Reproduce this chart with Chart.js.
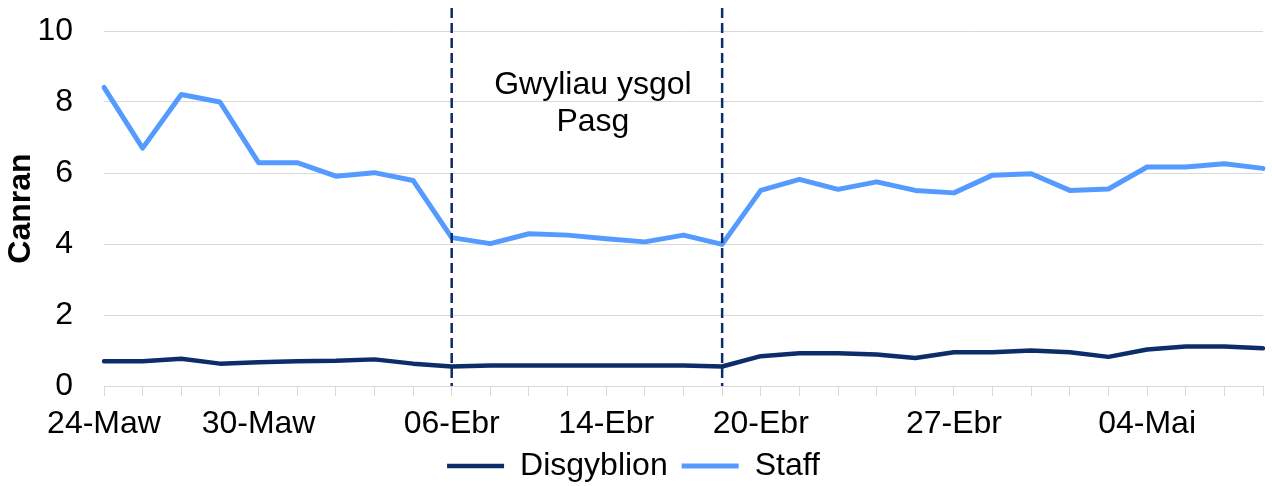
<!DOCTYPE html>
<html>
<head>
<meta charset="utf-8">
<script src="https://cdn.jsdelivr.net/npm/chart.js@4"></script>
<style>
  html, body { margin: 0; padding: 0; background: #fff; }
  #wrap { width: 1272px; height: 486px; }
</style>
</head>
<body>
<div id="wrap"><canvas id="chart" width="1272" height="486"></canvas></div>
<script>
// school days (dd-Mon in Welsh)
const dates = [
  "24-Maw", "25-Maw", "26-Maw", "29-Maw", "30-Maw", "31-Maw", "01-Ebr", "02-Ebr", "05-Ebr", "06-Ebr",
  "07-Ebr", "08-Ebr", "13-Ebr", "14-Ebr", "15-Ebr", "16-Ebr", "19-Ebr", "20-Ebr", "21-Ebr", "22-Ebr",
  "23-Ebr", "26-Ebr", "27-Ebr", "28-Ebr", "29-Ebr", "30-Ebr", "03-Mai", "04-Mai", "05-Mai", "06-Mai", "07-Mai"
];
const shownTicks = ["24-Maw", "30-Maw", "06-Ebr", "14-Ebr", "20-Ebr", "27-Ebr", "04-Mai"];

const disgyblion = [
  0.70, 0.70, 0.77, 0.63, 0.67, 0.70, 0.71, 0.75, 0.63, 0.55,
  0.58, 0.58, 0.58, 0.58, 0.58, 0.58, 0.55, 0.84, 0.92, 0.92,
  0.89, 0.79, 0.95, 0.95, 1.00, 0.95, 0.82, 1.03, 1.11, 1.11, 1.06
];
const staff = [
  8.41, 6.70, 8.21, 8.00, 6.29, 6.29, 5.91, 6.01, 5.79, 4.18,
  4.01, 4.29, 4.25, 4.15, 4.06, 4.25, 3.99, 5.51, 5.82, 5.54,
  5.75, 5.51, 5.44, 5.94, 5.98, 5.51, 5.55, 6.17, 6.17, 6.26, 6.13
];

const holidayStart = "06-Ebr";
const holidayEnd = "19-Ebr";
const holidayText = ["Gwyliau ysgol", "Pasg"];

const NAVY = "#0c2d69";
const LIGHT = "#559bff";
const GRID = "#d9d9d9";
const FONT = "'Liberation Sans', Arial, sans-serif";

const holidayPlugin = {
  id: "holiday",
  afterDatasetsDraw(chart) {
    const { ctx, chartArea, scales } = chart;
    const x1 = scales.x.getPixelForValue(dates.indexOf(holidayStart));
    const x2 = scales.x.getPixelForValue(dates.indexOf(holidayEnd));
    ctx.save();
    ctx.strokeStyle = NAVY;
    ctx.lineWidth = 2.5;
    ctx.setLineDash([10, 5]);
    [x1, x2].forEach((x) => {
      ctx.beginPath();
      ctx.moveTo(x, 8);
      ctx.lineTo(x, chartArea.bottom);
      ctx.stroke();
    });
    ctx.setLineDash([]);
    ctx.fillStyle = "#000";
    ctx.font = `32px ${FONT}`;
    ctx.textAlign = "center";
    ctx.textBaseline = "middle";
    const cx = (x1 + x2) / 2 + 6;
    ctx.fillText(holidayText[0], cx, chartArea.top + 54);
    ctx.fillText(holidayText[1], cx, chartArea.top + 91);
    ctx.restore();
  }
};

new Chart(document.getElementById("chart"), {
  type: "line",
  data: {
    labels: dates,
    datasets: [
      {
        label: "Disgyblion",
        data: disgyblion,
        borderColor: NAVY,
        backgroundColor: NAVY,
        borderWidth: 4.5,
        pointRadius: 0,
        tension: 0,
        borderCapStyle: "round",
        borderJoinStyle: "round"
      },
      {
        label: "Staff",
        data: staff,
        borderColor: LIGHT,
        backgroundColor: LIGHT,
        borderWidth: 5,
        pointRadius: 0,
        tension: 0,
        borderCapStyle: "round",
        borderJoinStyle: "round"
      }
    ]
  },
  options: {
    responsive: false,
    animation: false,
    layout: { padding: { top: 31, right: 5, bottom: 0, left: 0 } },
    plugins: {
      legend: {
        position: "bottom",
        maxHeight: 50,
        labels: {
          usePointStyle: true,
          pointStyle: "line",
          pointStyleWidth: 57,
          color: "#000",
          padding: 14,
          font: { family: FONT, size: 32 }
        }
      },
      tooltip: { enabled: false }
    },
    scales: {
      x: {
        offset: false,
        grid: { drawOnChartArea: false, drawTicks: true, tickLength: 10, color: GRID },
        border: { color: GRID },
        ticks: {
          autoSkip: false,
          maxRotation: 0,
          color: "#000",
          padding: 9,
          font: { family: FONT, size: 32 },
          callback: (v, i) => (shownTicks.includes(dates[i]) ? dates[i] : "")
        },
        afterFit: (s) => { s.height = 50; }
      },
      y: {
        min: 0,
        max: 10,
        grid: { color: GRID, drawTicks: true, tickLength: 27, tickColor: "rgba(0,0,0,0)" },
        border: { display: false },
        ticks: {
          stepSize: 2,
          color: "#000",
          padding: 4,
          font: { family: FONT, size: 32 }
        },
        title: {
          display: true,
          text: "Canran",
          color: "#000",
          padding: { top: 2, bottom: 0 },
          font: { family: FONT, size: 32, weight: "bold" }
        },
        afterFit: (s) => { s.width = 104; }
      }
    }
  },
  plugins: [holidayPlugin]
});
</script>
</body>
</html>
